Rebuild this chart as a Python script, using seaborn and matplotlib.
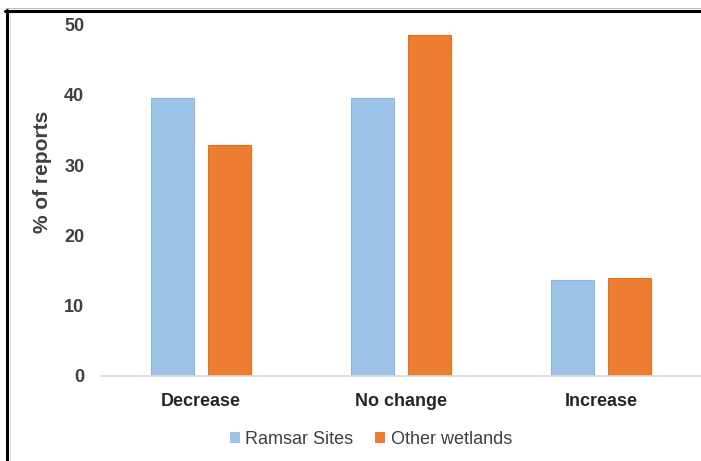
import matplotlib
matplotlib.use("Agg")
import matplotlib.pyplot as plt
from matplotlib.lines import Line2D
from matplotlib.patches import Patch
import seaborn as sns
import pandas as pd

categories = ["Decrease", "No change", "Increase"]
series = ["Ramsar Sites", "Other wetlands"]
ramsar_sites = [39.6, 39.6, 13.6]
other_wetlands = [32.8, 48.5, 13.9]
y_ticks = [0, 10, 20, 30, 40, 50]

colors = {"Ramsar Sites": "#9DC3E6", "Other wetlands": "#ED7D31"}
edges = {"Ramsar Sites": "#8DB4DE", "Other wetlands": "#E2701F"}

df = pd.DataFrame({
    "category": categories * 2,
    "series": [series[0]] * 3 + [series[1]] * 3,
    "value": ramsar_sites + other_wetlands,
})

sns.set_style("white")
plt.rcParams["font.family"] = ["Liberation Sans", "DejaVu Sans"]

W, H = 701, 461
fig = plt.figure(figsize=(W / 100, H / 100), dpi=100)
ax = fig.add_axes([101 / W, 1 - 376 / H, 1 - 101 / W, (376 - 24.5) / H])

sns.barplot(data=df, x="category", y="value", hue="series", order=categories,
            hue_order=series, palette=colors, width=0.57, gap=0.23,
            legend=False, ax=ax, saturation=1)

for container, s in zip(ax.containers, series):
    for bar in container:
        bar.set_edgecolor(edges[s])
        bar.set_linewidth(0.8)

ax.set_xlim(-0.5, 2.5)
ax.set_ylim(0, 50)
ax.set_yticks(y_ticks)
ax.set_yticklabels([str(t) for t in y_ticks], fontsize=13, fontweight="bold",
                   color="#404040")
ax.set_xticks(range(len(categories)))
ax.set_xticklabels(categories, fontsize=13, fontweight="bold", color="#262626",
                   va="baseline")
ax.tick_params(axis="both", length=0)
ax.tick_params(axis="y", pad=12)
ax.tick_params(axis="x", pad=21.5)
ax.set_xlabel("")
ax.set_ylabel("")

for side in ["top", "right", "left"]:
    ax.spines[side].set_visible(False)
ax.spines["bottom"].set_color("#D9D9D9")
ax.spines["bottom"].set_linewidth(1.2)

fig.text(42 / W, 1 - 172 / H, "% of reports", rotation=90, ha="center",
         va="center", fontsize=15, fontweight="bold", color="#404040")

handles = [Patch(facecolor=colors[s], edgecolor="none") for s in series]
fig.legend(handles, series, loc="center", bbox_to_anchor=(371 / W, 1 - 439 / H),
           ncol=2, frameon=False, fontsize=13, handlelength=0.55,
           handleheight=0.55, handletextpad=0.3, columnspacing=1.2,
           labelcolor="#404040", borderpad=0)

# outer frame: top and left edges only
fig.add_artist(Line2D([5 / W, 1], [1 - 11 / H, 1 - 11 / H], color="black",
                      lw=2.2, transform=fig.transFigure))
fig.add_artist(Line2D([7 / W, 7 / W], [0, 1 - 10 / H], color="black",
                      lw=2.2, transform=fig.transFigure))
fig.add_artist(Line2D([5 / W, 1], [1 - 8.5 / H, 1 - 8.5 / H], color="#BBBBBB",
                      lw=0.8, transform=fig.transFigure))
fig.add_artist(Line2D([10 / W, 10 / W], [0, 1 - 13 / H], color="#DDDDDD",
                      lw=0.8, transform=fig.transFigure))

fig.savefig("out.png", dpi=100)
